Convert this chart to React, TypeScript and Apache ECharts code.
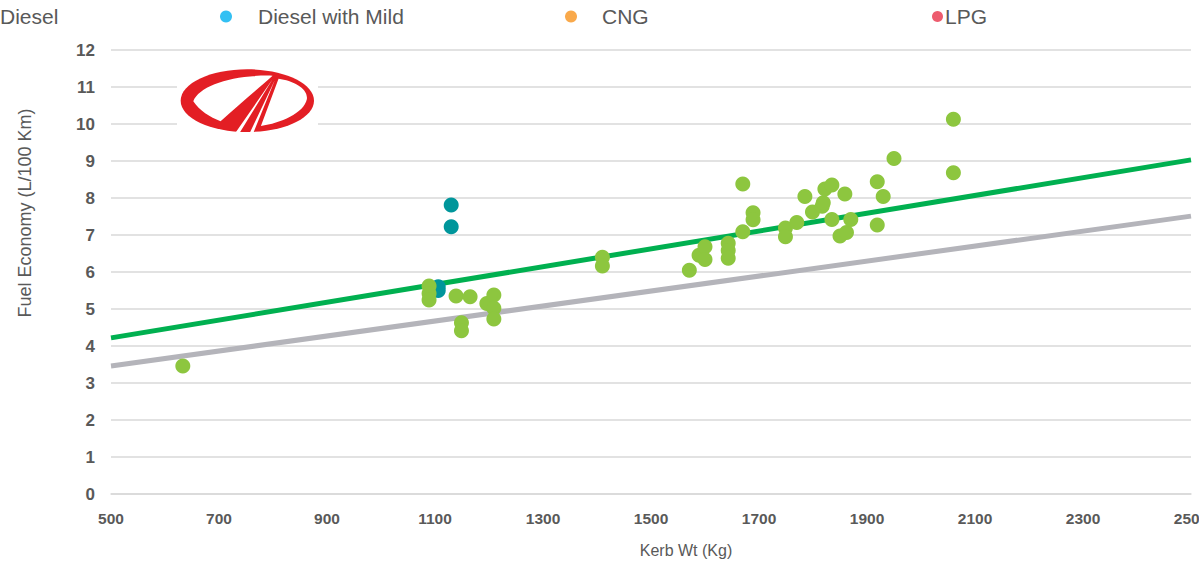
import React, { useEffect, useRef } from "react";
import * as echarts from "echarts";

const FONT = "'Liberation Sans', Arial, Helvetica, sans-serif";
const TEXT_COLOR = "#595959";
const GRID_COLOR = "#d9d9d9";

// Kerb weight (kg) vs fuel economy (L/100 km)
const dieselPoints: [number, number][] = [
  [633, 3.46],
  [1089, 5.62], [1089, 5.42], [1089, 5.24],
  [1139, 5.35], [1165, 5.33], [1149, 4.63], [1149, 4.41],
  [1196, 5.15], [1209, 5.38], [1209, 5.02], [1209, 4.73],
  [1410, 6.4], [1410, 6.16],
  [1571, 6.05], [1589, 6.45], [1600, 6.68], [1600, 6.34],
  [1643, 6.78], [1643, 6.58], [1643, 6.37],
  [1670, 8.38], [1670, 7.09], [1689, 7.6], [1689, 7.41],
  [1749, 7.19], [1749, 6.95], [1770, 7.34], [1785, 8.04],
  [1799, 7.62], [1817, 7.78], [1819, 7.87], [1822, 8.24], [1835, 8.35],
  [1835, 7.42], [1859, 8.11], [1850, 6.97], [1862, 7.07], [1870, 7.42],
  [1919, 8.44], [1930, 8.04], [1919, 7.27], [1950, 9.07],
  [2060, 10.13], [2060, 8.68],
];
const dieselVariantPoints: [number, number][] = [
  [1130, 7.81], [1130, 7.22], [1106, 5.6], [1106, 5.5],
];
const mildHybridPoints: [number, number][] = [];
const cngPoints: [number, number][] = [];
const lpgPoints: [number, number][] = [];

// Straight reference lines across the weight range
const trendWeights = [500, 2500];
const upperTrend = [4.22, 9.03];
const lowerTrend = [3.46, 7.51];

const X_MIN = 500;
const X_MAX = 2500;
const X_STEP = 200;
const Y_MIN = 0;
const Y_MAX = 12;
const Y_STEP = 1;

// Mahindra emblem cut-outs (drawn white over a red oval), 3x local units
const EMBLEM_CUTS =
  "M 100 124 C 118 76 220 44 338 47 C 290 90 230 140 182 184 C 150 172 118 152 100 124 Z " +
  "M 338 58 L 224 222 L 237 222 Z " +
  "M 345 60 L 268 222 L 279 222 Z " +
  "M 356 56 L 303 198 C 362 190 432 160 441 118 C 446 85 400 62 356 56 Z";

echarts.graphic.registerShape("emblemCuts", echarts.graphic.extendPath(EMBLEM_CUTS, {}));

const toPairs = (xs: number[], ys: number[]) => xs.map((x, i) => [x, ys[i]]);

export default function App() {
  const ref = useRef<HTMLDivElement>(null);

  useEffect(() => {
    if (!ref.current) return;
    const chart = echarts.init(ref.current, undefined, { renderer: "svg" });

    const legendText = { fontFamily: FONT, fontSize: 21, color: TEXT_COLOR };
    const legendBase = {
      top: 6,
      padding: 0,
      itemWidth: 12,
      itemHeight: 12,
      selectedMode: false,
    };

    chart.setOption({
      animation: false,
      backgroundColor: "#ffffff",
      textStyle: { fontFamily: FONT },
      grid: {
        left: 111,
        right: 8,
        top: 50,
        bottom: 69,
        containLabel: false,
        outerBoundsMode: "none",
      },
      legend: [
        { ...legendBase, left: -17, data: ["Diesel"], textStyle: legendText },
        {
          ...legendBase,
          left: 220,
          data: [{ name: "Diesel with Mild", icon: "circle" }],
          textStyle: { ...legendText, padding: [0, 0, 0, 21] },
        },
        {
          ...legendBase,
          left: 565,
          data: [{ name: "CNG", icon: "circle" }],
          textStyle: { ...legendText, padding: [0, 0, 0, 20] },
        },
        {
          ...legendBase,
          left: 932,
          itemWidth: 11,
          itemHeight: 11,
          data: [{ name: "LPG", icon: "circle" }],
          textStyle: { ...legendText, padding: [0, 0, 0, -3] },
        },
      ],
      xAxis: {
        type: "value",
        min: X_MIN,
        max: X_MAX,
        interval: X_STEP,
        axisLine: { show: true, lineStyle: { color: GRID_COLOR, width: 1.5 } },
        axisTick: { show: false },
        splitLine: { show: false },
        axisLabel: {
          color: TEXT_COLOR,
          fontFamily: FONT,
          fontSize: 15.5,
          fontWeight: "bold",
          margin: 16,
          hideOverlap: false,
          formatter: (v: number) => String(v),
        },
      },
      yAxis: {
        type: "value",
        min: Y_MIN,
        max: Y_MAX,
        interval: Y_STEP,
        axisLine: { show: false },
        axisTick: { show: false },
        splitLine: { show: true, lineStyle: { color: GRID_COLOR, width: 1.5 } },
        axisLabel: {
          color: TEXT_COLOR,
          fontFamily: FONT,
          fontSize: 17,
          fontWeight: "bold",
          margin: 16,
          formatter: (v: number) => String(v),
        },
      },
      graphic: [
        {
          type: "text",
          x: 25,
          y: 213,
          rotation: Math.PI / 2,
          z: 10,
          style: {
            text: "Fuel Economy (L/100 Km)",
            fill: TEXT_COLOR,
            font: `18px ${FONT}`,
            textAlign: "center",
            textVerticalAlign: "middle",
          },
        },
        {
          type: "text",
          x: 686,
          y: 550,
          z: 10,
          style: {
            text: "Kerb Wt (Kg)",
            fill: TEXT_COLOR,
            font: `16px ${FONT}`,
            textAlign: "center",
            textVerticalAlign: "middle",
          },
        },
        {
          type: "group",
          z: 20,
          children: [
            {
              type: "rect",
              shape: { x: 177, y: 66, width: 141, height: 68 },
              style: { fill: "#ffffff" },
              z: 20,
            },
            {
              type: "ellipse",
              shape: { cx: 160 + 262 / 3, cy: 60 + 122 / 3, rx: 200 / 3, ry: 94 / 3 },
              style: { fill: "#e31e24" },
              z: 21,
            },
            {
              type: "emblemCuts",
              x: 160,
              y: 60,
              scaleX: 1 / 3,
              scaleY: 1 / 3,
              style: { fill: "#ffffff" },
              z: 22,
            },
          ],
        },
      ],
      series: [
        {
          name: "Upper trend",
          type: "line",
          data: toPairs(trendWeights, upperTrend),
          symbol: "none",
          silent: true,
          lineStyle: { color: "#00b050", width: 5 },
          z: 2,
        },
        {
          name: "Lower trend",
          type: "line",
          data: toPairs(trendWeights, lowerTrend),
          symbol: "none",
          silent: true,
          lineStyle: { color: "#b4b4ba", width: 5 },
          z: 2,
        },
        {
          name: "Diesel variant",
          type: "scatter",
          data: dieselVariantPoints,
          symbolSize: 15,
          itemStyle: { color: "#00969b", opacity: 1 },
          z: 3,
        },
        {
          name: "Diesel",
          type: "scatter",
          data: dieselPoints,
          symbolSize: 15,
          itemStyle: { color: "#8dc63f", opacity: 1 },
          z: 4,
        },
        {
          name: "Diesel with Mild",
          type: "scatter",
          data: mildHybridPoints,
          symbolSize: 15,
          itemStyle: { color: "#00b0f0" },
        },
        {
          name: "CNG",
          type: "scatter",
          data: cngPoints,
          symbolSize: 15,
          itemStyle: { color: "#f7931e" },
        },
        {
          name: "LPG",
          type: "scatter",
          data: lpgPoints,
          symbolSize: 15,
          itemStyle: { color: "#e8334a" },
        },
      ],
    });

    return () => chart.dispose();
  }, []);

  return (
    <div
      ref={ref}
      style={{ position: "fixed", left: 0, top: 0, width: 1199, height: 563, background: "#fff" }}
    />
  );
}
